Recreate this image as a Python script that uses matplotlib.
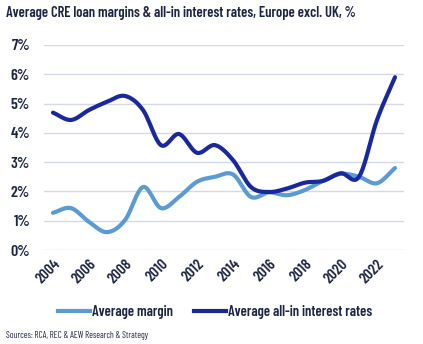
import numpy as np
import matplotlib
matplotlib.use("Agg")
import matplotlib.pyplot as plt
from matplotlib.lines import Line2D

plt.rcParams['font.family'] = ['Barlow Condensed', 'DejaVu Sans']

years = np.arange(2004, 2024)
margin = [1.27, 1.43, 0.96, 0.61, 1.02, 2.15, 1.43, 1.81, 2.33, 2.50,
          2.58, 1.81, 1.97, 1.87, 2.05, 2.36, 2.60, 2.50, 2.28, 2.80]
all_in = [4.69, 4.44, 4.78, 5.06, 5.26, 4.78, 3.58, 3.96, 3.32, 3.58,
          3.07, 2.15, 1.98, 2.10, 2.30, 2.36, 2.62, 2.50, 4.44, 5.90]
yticks = [0, 1, 2, 3, 4, 5, 6, 7]
xticks = list(range(2004, 2023, 2))

TXT = '#1c2546'
LIGHT = '#5b9bd5'
DARK = '#1a28a0'


def smooth(x, y, n=20):
    # catmull-rom, like excel's smoothed line
    x = np.asarray(x, float)
    y = np.asarray(y, float)
    px = np.concatenate([[2 * x[0] - x[1]], x, [2 * x[-1] - x[-2]]])
    py = np.concatenate([[2 * y[0] - y[1]], y, [2 * y[-1] - y[-2]]])
    xs, ys = [], []
    t = np.linspace(0, 1, n, endpoint=False)
    for i in range(1, len(px) - 2):
        for p, out in ((px, xs), (py, ys)):
            p0, p1, p2, p3 = p[i - 1], p[i], p[i + 1], p[i + 2]
            out.extend(0.5 * (2 * p1 + (-p0 + p2) * t
                              + (2 * p0 - 5 * p1 + 4 * p2 - p3) * t ** 2
                              + (-p0 + 3 * p1 - 3 * p2 + p3) * t ** 3))
    xs.append(x[-1])
    ys.append(y[-1])
    return np.array(xs), np.array(ys)


fig = plt.figure(figsize=(4.23, 3.44), dpi=100)
ax = fig.add_axes([44 / 423, 1 - 250 / 344, 360 / 423, 205 / 344])

sx, sy = smooth(years, margin)
ax.plot(sx, sy, color=LIGHT, lw=3.0, solid_capstyle='round', zorder=3)
sx, sy = smooth(years, all_in)
ax.plot(sx, sy, color=DARK, lw=3.0, solid_capstyle='round', zorder=4)

ax.set_xlim(2003.5, 2023.5)
ax.set_ylim(0, 7)
ax.set_yticks(yticks)
ax.set_yticklabels(['%d%%' % v for v in yticks], fontsize=11.5, color=TXT,
                   fontweight=600)
ax.set_xticks(xticks)
ax.set_xticklabels([str(v) for v in xticks], rotation=45, ha='right',
                   rotation_mode='anchor', fontsize=11, color=TXT,
                   fontweight=600)
ax.tick_params(length=0, pad=10)
ax.tick_params(axis='x', pad=5)
ax.yaxis.grid(True, color='#d3d8ef', lw=1)
ax.set_axisbelow(True)
for s in ax.spines.values():
    s.set_visible(False)

fig.text(6 / 423, 1 - 13 / 344, 'Average CRE loan margins & all-in interest rates, Europe excl. UK, %',
         fontsize=10.5, fontweight=600, color=TXT, va='center', ha='left')

handles = [Line2D([], [], color=LIGHT, lw=3.0), Line2D([], [], color=DARK, lw=3.0)]
fig.legend(handles, ['Average margin', 'Average all-in interest rates'],
           loc='center', bbox_to_anchor=(215 / 423, 1 - 312 / 344), ncol=2,
           frameon=False, handlelength=2.2, handletextpad=0.1, columnspacing=1.5,
           prop={'size': 10.5, 'weight': 600}, labelcolor=TXT)

fig.text(6 / 423, 1 - 335 / 344, 'Sources: RCA, REC & AEW Research & Strategy',
         fontsize=6.5, color=TXT, va='center', ha='left')

fig.savefig('out.png', dpi=100, facecolor='white')
